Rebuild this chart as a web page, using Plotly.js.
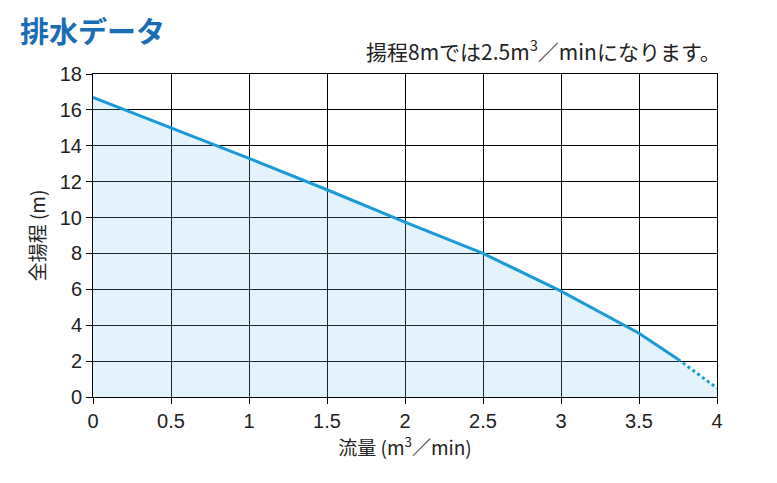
<!DOCTYPE html>
<html>
<head>
<meta charset="utf-8">
<script src="https://cdn.plot.ly/plotly-3.0.1.min.js"></script>
<style>html,body{margin:0;padding:0;background:#fff;}#chart{width:777px;height:483px;}</style>
</head>
<body>
<div id="chart"></div>
<script>
// Flow (m3/min) and total head (m)
const flowSolid = [0, 0.5, 1, 1.5, 2, 2.5, 3, 3.5, 3.75];
const headSolid = [16.7, 15.0, 13.3, 11.55, 9.75, 8.0, 5.9, 3.55, 2.1];
const flowDotted = [3.75, 4];
const headDotted = [2.1, 0.5];
const xTicks = [0, 0.5, 1, 1.5, 2, 2.5, 3, 3.5, 4];
const xTickLabels = ["0", "0.5", "1", "1.5", "2", "2.5", "3", "3.5", "4"];
const yTicks = [0, 2, 4, 6, 8, 10, 12, 14, 16, 18];

const fillX = flowSolid.concat(flowDotted.slice(1));
const fillY = headSolid.concat(headDotted.slice(1));

const FONT = "Liberation Sans, Arial, 'Noto Sans CJK JP', sans-serif";
const JFONT = "'Noto Sans CJK JP', 'Liberation Sans', sans-serif";

const traces = [
  {x: fillX, y: fillY, type: 'scatter', mode: 'lines', fill: 'tozeroy',
   fillcolor: 'rgba(120,190,240,0.2)', line: {width: 0}, hoverinfo: 'skip'},
  {x: flowSolid, y: headSolid, type: 'scatter', mode: 'lines',
   line: {color: '#1c9ad8', width: 3}},
  {x: flowDotted, y: headDotted, type: 'scatter', mode: 'lines',
   line: {color: '#1c9ad8', width: 3, dash: 'dot'}}
];

const layout = {
  width: 777, height: 483,
  margin: {l: 93, r: 60, t: 74, b: 86},
  paper_bgcolor: '#fff', plot_bgcolor: '#fff',
  showlegend: false,
  font: {family: FONT, color: '#222'},
  xaxis: {
    range: [0, 4], tickvals: xTicks, ticktext: xTickLabels,
    showgrid: true, gridcolor: '#000', gridwidth: 1,
    showline: true, linecolor: '#000', linewidth: 1, mirror: true,
    ticks: 'outside', ticklen: 6, tickcolor: '#000',
    tickfont: {size: 20, family: FONT, color: '#222'},
    zeroline: false,
    title: {text: '流量 (m<sup>3</sup>／min)', font: {size: 19, family: JFONT, color: '#222'}, standoff: 6}
  },
  yaxis: {
    range: [0, 18], tickvals: yTicks,
    showgrid: true, gridcolor: '#000', gridwidth: 1,
    showline: true, linecolor: '#000', linewidth: 1, mirror: true,
    ticks: 'outside', ticklen: 6, tickcolor: '#000',
    tickfont: {size: 20, family: FONT, color: '#222'},
    zeroline: false,
    title: {text: '全揚程 (m)', font: {size: 19, family: JFONT, color: '#222'}, standoff: 9}
  },
  annotations: [
    {xref: 'paper', yref: 'paper', x: -0.12, y: 1.136, xanchor: 'left', yanchor: 'middle',
     text: '<b>排水データ</b>', showarrow: false,
     font: {size: 29, family: JFONT, color: '#1a6db5'}},
    {xref: 'paper', yref: 'paper', x: 1.01, y: 1.074, xanchor: 'right', yanchor: 'middle',
     text: '揚程8mでは2.5m<sup>3</sup>／minになります。', showarrow: false,
     font: {size: 21, family: JFONT, color: '#222'}}
  ]
};

Plotly.newPlot('chart', traces, layout, {displayModeBar: false, staticPlot: true});
</script>
</body>
</html>
